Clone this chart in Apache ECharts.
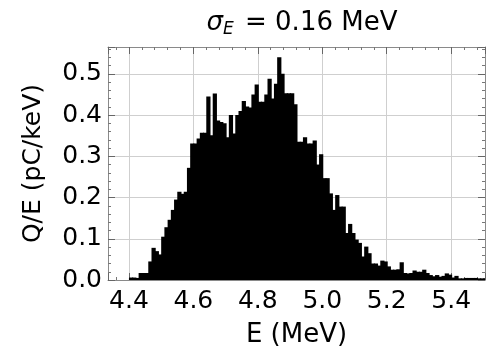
<!DOCTYPE html>
<html>
<head>
<meta charset="utf-8">
<script src="https://cdn.jsdelivr.net/npm/echarts@6/dist/echarts.min.js"></script>
<style>
html, body { margin: 0; padding: 0; background: #fff; }
#chart { width: 492px; height: 354px; }
</style>
</head>
<body>
<div id="chart"></div>
<script>
// histogram bins, E in MeV (left edge of first bin + width)
var binStart = 4.40;
var binWidth = 0.01;
// Q/E in pC/keV, one value per bin from 4.40 MeV
var chargePerE = [
	0.006, 0.006, 0.005, 0.017, 0.017, 0.017, 0.045, 0.078, 0.070, 0.062,
	0.105, 0.128, 0.146, 0.170, 0.195, 0.214, 0.209, 0.214, 0.272, 0.331,
	0.331, 0.343, 0.357, 0.357, 0.445, 0.351, 0.452, 0.387, 0.383, 0.380,
	0.346, 0.400, 0.355, 0.400, 0.410, 0.434, 0.421, 0.418, 0.450, 0.474,
	0.432, 0.432, 0.450, 0.488, 0.440, 0.476, 0.540, 0.500, 0.453, 0.453,
	0.453, 0.426, 0.335, 0.335, 0.346, 0.331, 0.331, 0.338, 0.280, 0.305,
	0.247, 0.247, 0.210, 0.170, 0.206, 0.178, 0.178, 0.114, 0.136, 0.114,
	0.098, 0.090, 0.057, 0.081, 0.065, 0.040, 0.040, 0.035, 0.047, 0.045,
	0.033, 0.025, 0.025, 0.026, 0.043, 0.017, 0.016, 0.017, 0.023, 0.020,
	0.020, 0.025, 0.017, 0.012, 0.009, 0.012, 0.008, 0.010, 0.016, 0.013,
	0.006, 0.010, 0.004, 0.004, 0.005, 0.005, 0.005, 0.005, 0.004, 0.004,
	0.004
];
var xRange = [4.335, 5.505];
var yRange = [0, 0.565];
var yStep = 0.1;

var font = 'DejaVu Sans';
var frameColor = '#8a8a8a';
var gridColor = '#cfcfcf';

var bins = [];
for (var i = 0; i < chargePerE.length; i++) {
	var x0 = +(binStart + i * binWidth).toFixed(3);
	bins.push([x0, +(x0 + binWidth).toFixed(3), chargePerE[i]]);
}

function frameAxis(extra) { // common look of the 4 frame sides
	var ax = {
		type: 'value',
		axisLine: { show: true, onZero: false, lineStyle: { color: frameColor, width: 1 } },
		axisTick: { show: true, inside: true, length: 7, lineStyle: { color: '#666' } },
		minorTick: { show: true, splitNumber: 5, length: 3, lineStyle: { color: '#777' } },
		splitLine: { show: false },
		axisLabel: { show: false }
	};
	for (var k in extra) ax[k] = extra[k];
	return ax;
}

var chart = echarts.init(document.getElementById('chart'));
chart.setOption({
	animation: false,
	title: {
		text: '{s|σ}{sub|E}{n| = 0.16 MeV}',
		left: 297,
		top: 3,
		textAlign: 'center',
		textStyle: {
			fontWeight: 'normal',
			rich: {
				s: { fontFamily: font, fontSize: 26, fontStyle: 'italic', fontWeight: 'normal', color: '#000', lineHeight: 30 },
				sub: { fontFamily: font, fontSize: 17, fontStyle: 'italic', fontWeight: 'normal', color: '#000', lineHeight: 17, padding: [14, 3, 0, 0], verticalAlign: 'bottom' },
				n: { fontFamily: font, fontSize: 26, fontWeight: 'normal', color: '#000', lineHeight: 30 }
			}
		}
	},
	grid: { left: 108, right: 7, top: 47, bottom: 74 },
	xAxis: [
		frameAxis({
			position: 'bottom',
			min: xRange[0], max: xRange[1],
			splitNumber: 5,
			splitLine: { show: true, lineStyle: { color: gridColor, width: 1 } },
			axisLabel: {
				show: true, margin: 9, color: '#000', fontFamily: font, fontSize: 25,
				showMinLabel: false, showMaxLabel: false,
				formatter: function(v) { return v.toFixed(1); }
			},
			name: 'E (MeV)',
			nameLocation: 'middle',
			nameGap: 42,
			nameTextStyle: { color: '#000', fontFamily: font, fontSize: 26 }
		}),
		frameAxis({ position: 'top', min: xRange[0], max: xRange[1], splitNumber: 5 })
	],
	yAxis: [
		frameAxis({
			position: 'left',
			min: yRange[0], max: yRange[1], interval: yStep,
			splitLine: { show: true, lineStyle: { color: gridColor, width: 1 } },
			axisLabel: {
				show: true, margin: 6, color: '#000', fontFamily: font, fontSize: 25,
				showMaxLabel: false,
				formatter: function(v) { return v.toFixed(1); }
			},
			name: 'Q/E (pC/keV)',
			nameLocation: 'middle',
			nameGap: 62,
			nameTextStyle: { color: '#000', fontFamily: font, fontSize: 25 }
		}),
		frameAxis({ position: 'right', min: yRange[0], max: yRange[1], interval: yStep })
	],
	series: [{
		type: 'custom',
		xAxisIndex: 0,
		yAxisIndex: 0,
		clip: true,
		encode: { x: [0, 1], y: 2 },
		data: bins,
		renderItem: function(params, api) {
			var p0 = api.coord([api.value(0), 0]);
			var p1 = api.coord([api.value(1), api.value(2)]);
			return {
				type: 'rect',
				shape: { x: p0[0], y: p1[1], width: p1[0] - p0[0] + 1, height: p0[1] - p1[1] },
				style: { fill: '#000', stroke: null }
			};
		}
	}]
});
</script>
</body>
</html>
